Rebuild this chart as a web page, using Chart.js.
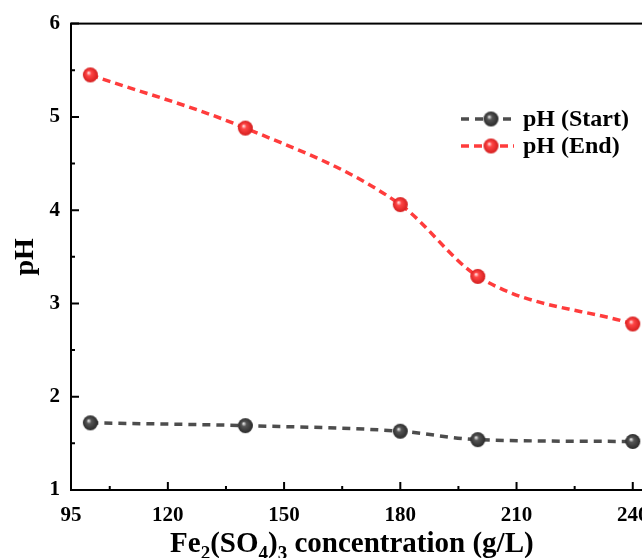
<!DOCTYPE html>
<html>
<head>
<meta charset="utf-8">
<script src="https://cdn.jsdelivr.net/npm/chart.js@4.4.1/dist/chart.umd.min.js"></script>
<style>
html, body { margin: 0; padding: 0; background: #fff; overflow: hidden; width: 642px; height: 558px; }
#wrap { position: relative; width: 740px; height: 558px; }
</style>
</head>
<body>
<div id="wrap"><canvas id="chart" width="740" height="558"></canvas></div>
<script>
// data
var concentration = [100, 140, 180, 200, 240];
var phStart = [1.72, 1.69, 1.63, 1.54, 1.52];
var phEnd = [5.45, 4.88, 4.06, 3.29, 2.78];
var seriesNames = ['pH (Start)', 'pH (End)'];
var xTicks = [95, 105, 120, 135, 150, 165, 180, 195, 210, 225, 240, 255];
var xLabeled = [95, 120, 150, 180, 210, 240];
var yTicks = [1, 1.5, 2, 2.5, 3, 3.5, 4, 4.5, 5, 5.5, 6];
var yLabeled = [1, 2, 3, 4, 5, 6];

var serif = "'Liberation Serif', 'Times New Roman', serif";

function makeBall(light, base, dark, r){
    var s = r*2+2;
    var c = document.createElement('canvas');
    c.width = s; c.height = s;
    var g = c.getContext('2d');
    var cx = s/2, cy = s/2;
    var grad = g.createRadialGradient(cx-r*0.25, cy-r*0.3, r*0.05, cx, cy, r);
    grad.addColorStop(0, light);
    grad.addColorStop(0.3, base);
    grad.addColorStop(1, dark);
    g.fillStyle = grad;
    g.beginPath();
    g.arc(cx, cy, r, 0, Math.PI*2);
    g.fill();
    return c;
}

var ballBlack = makeBall('#e6e6e6', '#555555', '#2a2a2a', 7.5);
var ballRed = makeBall('#ffe0e0', '#ff4646', '#d41e1e', 7.5);

function toPoints(xs, ys){
    var pts = [];
    for(var i=0; i<xs.length; i++) pts.push({x: xs[i], y: ys[i]});
    return pts;
}

// frame, inward ticks, x title with subscripts, legend
var decor = {
    id: 'decor',
    afterDraw: function(chart){
        var ctx = chart.ctx, a = chart.chartArea;
        var xs = chart.scales.x, ys = chart.scales.y;
        ctx.save();
        ctx.strokeStyle = '#000';
        ctx.lineWidth = 2;
        ctx.strokeRect(a.left, a.top, a.right-a.left, a.bottom-a.top);
        ctx.beginPath();
        for(var i=0; i<xTicks.length; i++){
            if(xTicks[i] === 95) continue;
            var px = xs.getPixelForValue(xTicks[i]);
            var len = (xTicks[i] % 30 === 0) ? 8 : 4;
            ctx.moveTo(px, a.bottom); ctx.lineTo(px, a.bottom-len);
        }
        for(var j=0; j<yTicks.length; j++){
            var py = ys.getPixelForValue(yTicks[j]);
            var l2 = (yLabeled.indexOf(yTicks[j]) >= 0) ? 8 : 4;
            ctx.moveTo(a.left, py); ctx.lineTo(a.left+l2, py);
        }
        ctx.stroke();

        // x axis title
        var big = 'bold 29px ' + serif, small = 'bold 19px ' + serif;
        var parts = [['Fe', 0], ['2', 1], ['(SO', 0], ['4', 1], [')', 0], ['3', 1], [' concentration (g/L)', 0]];
        var total = 0;
        for(var k=0; k<parts.length; k++){
            ctx.font = parts[k][1] ? small : big;
            total += ctx.measureText(parts[k][0]).width;
        }
        var mid = (xs.getPixelForValue(xLabeled[0]) + xs.getPixelForValue(xLabeled[xLabeled.length-1]))/2;
        var tx = mid - total/2, base = 552;
        ctx.fillStyle = '#000';
        ctx.textBaseline = 'alphabetic';
        ctx.textAlign = 'left';
        for(var m=0; m<parts.length; m++){
            ctx.font = parts[m][1] ? small : big;
            ctx.fillText(parts[m][0], tx, parts[m][1] ? base+7 : base);
            tx += ctx.measureText(parts[m][0]).width;
        }

        // legend
        ctx.font = 'bold 24px ' + serif;
        ctx.textBaseline = 'middle';
        chart.data.datasets.forEach(function(ds, n){
            var ly = 119 + n*27;
            ctx.strokeStyle = ds.borderColor;
            ctx.lineWidth = ds.borderWidth;
            ctx.setLineDash(ds.borderDash);
            ctx.beginPath();
            ctx.moveTo(461, ly); ctx.lineTo(514, ly);
            ctx.stroke();
            ctx.setLineDash([]);
            var img = ds.pointStyle;
            ctx.drawImage(img, 491-img.width/2, ly-img.height/2);
            ctx.fillStyle = '#000';
            ctx.fillText(ds.label, 523, ly+1);
        });
        ctx.restore();
    }
};

new Chart(document.getElementById('chart').getContext('2d'), {
    type: 'line',
    data: {
        datasets: [
            {
                label: seriesNames[0],
                data: toPoints(concentration, phStart),
                borderColor: '#4d4d4d',
                borderWidth: 3.5,
                borderDash: [8, 6],
                cubicInterpolationMode: 'monotone',
                pointStyle: ballBlack,
                pointRadius: 7.5
            },
            {
                label: seriesNames[1],
                data: toPoints(concentration, phEnd),
                borderColor: '#ff3c3c',
                borderWidth: 3.5,
                borderDash: [8, 5],
                cubicInterpolationMode: 'monotone',
                pointStyle: ballRed,
                pointRadius: 7.5
            }
        ]
    },
    options: {
        responsive: false,
        devicePixelRatio: 1,
        animation: false,
        layout: { padding: { top: 23, right: 22, left: 0, bottom: 0 } },
        plugins: { legend: { display: false }, tooltip: { enabled: false } },
        scales: {
            x: {
                type: 'linear',
                min: 95,
                max: 262,
                afterBuildTicks: function(scale){
                    scale.ticks = xTicks.map(function(v){ return {value: v}; });
                },
                afterFit: function(scale){ scale.height = 68; },
                grid: { display: false, drawTicks: false },
                border: { display: false },
                ticks: {
                    autoSkip: false,
                    maxRotation: 0,
                    padding: 13,
                    color: '#000',
                    font: { family: serif, size: 21, weight: 'bold' },
                    callback: function(v){ return xLabeled.indexOf(v) >= 0 ? String(v) : ''; }
                }
            },
            y: {
                min: 1,
                max: 6,
                afterBuildTicks: function(scale){
                    scale.ticks = yTicks.map(function(v){ return {value: v}; });
                },
                afterFit: function(scale){ scale.width = 71; },
                grid: { display: false, drawTicks: false },
                border: { display: false },
                title: {
                    display: true,
                    text: 'pH',
                    color: '#000',
                    padding: { top: 9, bottom: 0 },
                    font: { family: serif, size: 28, weight: 'bold' }
                },
                ticks: {
                    padding: 11,
                    color: '#000',
                    font: { family: serif, size: 21, weight: 'bold' },
                    callback: function(v){ return yLabeled.indexOf(v) >= 0 ? String(v) : ''; }
                }
            }
        }
    },
    plugins: [decor]
});
</script>
</body>
</html>
